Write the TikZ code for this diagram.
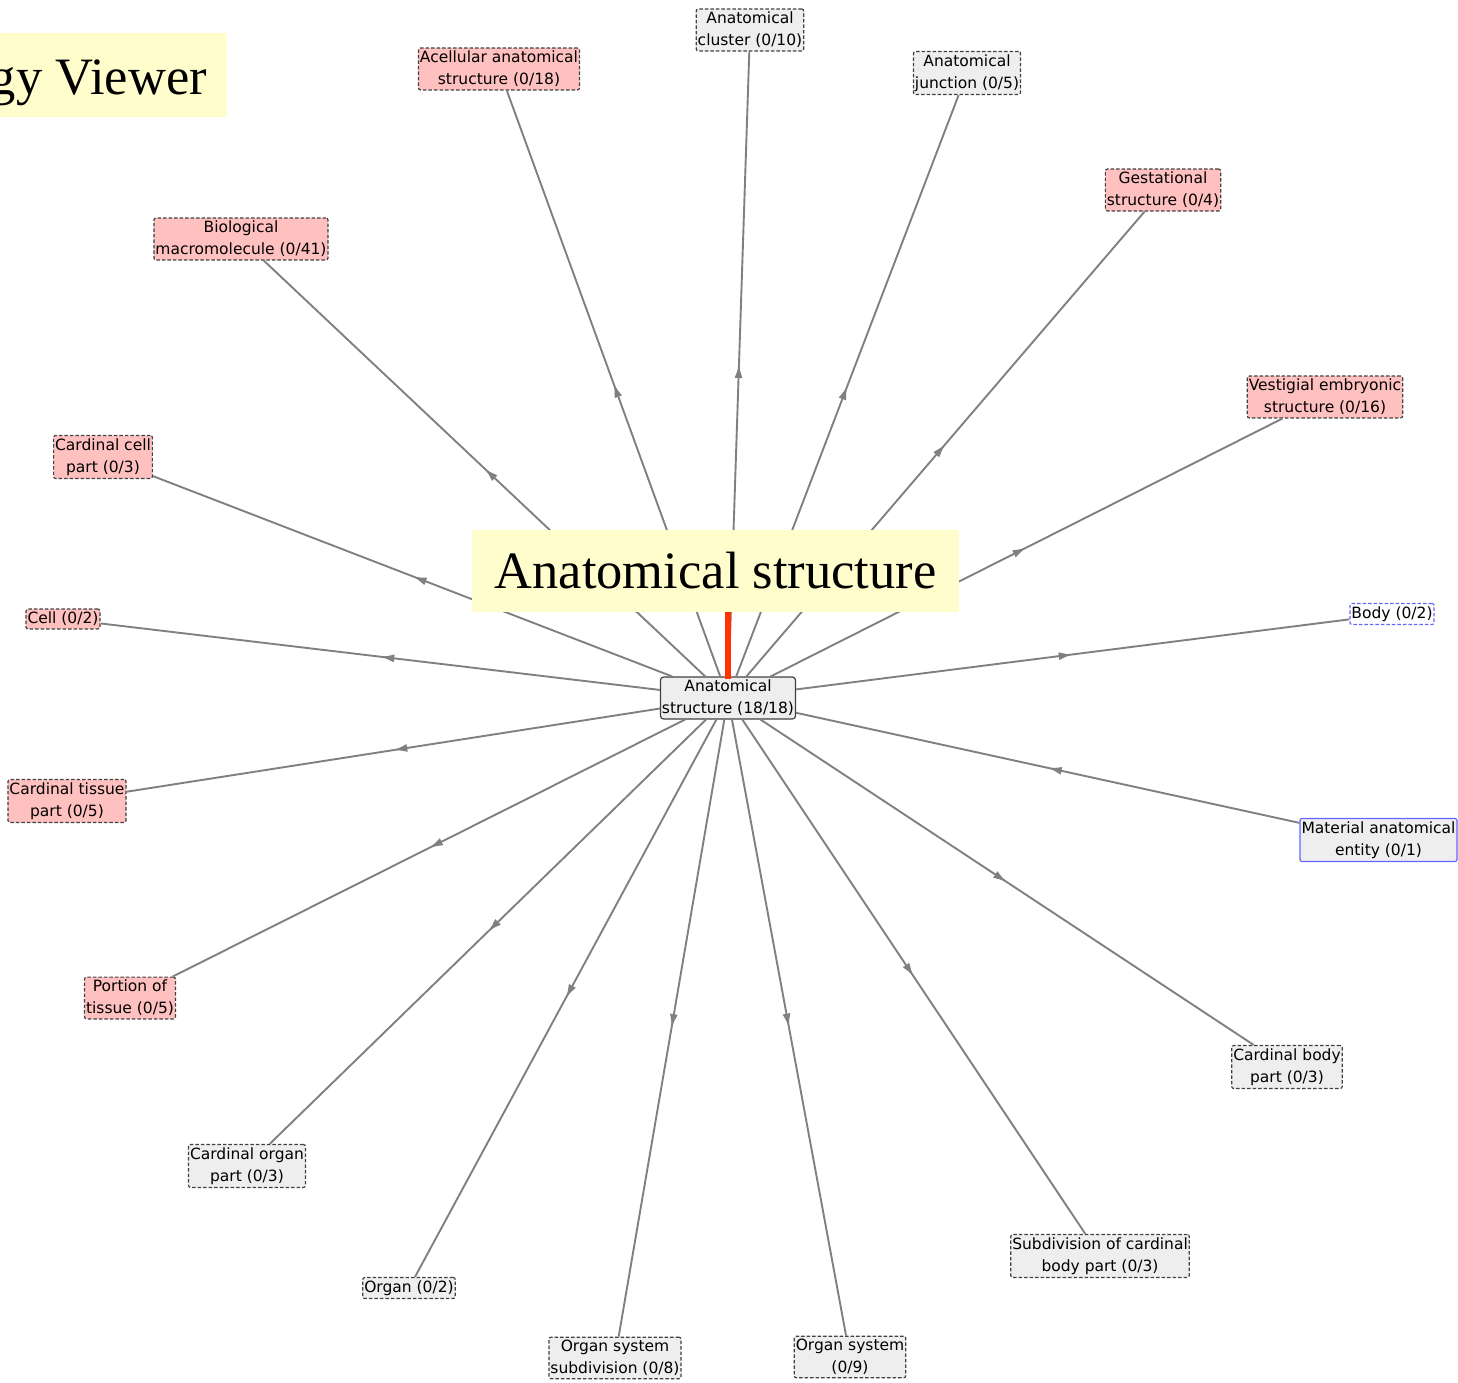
\documentclass[tikz,border=0pt]{standalone}
\usepackage{fontspec}
\setmainfont{Liberation Serif}
\newfontfamily\termfont{DejaVu Sans}
\usetikzlibrary{positioning,calc,arrows.meta,decorations.markings}
\definecolor{pinkbox}{RGB}{255,192,192}
\definecolor{greybox}{RGB}{238,238,238}
\definecolor{edgegrey}{RGB}{128,128,128}
\definecolor{titlebg}{RGB}{255,253,204}
\definecolor{linkblue}{RGB}{100,100,255}
\definecolor{barred}{RGB}{255,51,0}
\tikzset{term/.style={draw=black!75,dash pattern=on 3.5pt off 2pt,rounded corners=2pt,line width=1.2pt,align=center,
  font=\termfont\fontsize{15.5}{22}\selectfont,inner xsep=1.5pt,inner ysep=3pt}}
\tikzset{pterm/.style={term,fill=pinkbox}}
\tikzset{gterm/.style={term,fill=greybox}}
\tikzset{bterm/.style={term,draw=linkblue,fill=white}}
\tikzset{isa/.style={draw=edgegrey,line width=1.9pt,postaction={decorate},
  decoration={markings,mark=at position 0.5 with {\arrow{Latex[length=14pt,width=8pt]}}}}}
\tikzset{isinv/.style={draw=edgegrey,line width=1.9pt,postaction={decorate},
  decoration={markings,mark=at position 0.5 with {\arrowreversed{Latex[length=14pt,width=8pt]}}}}}
\tikzset{banner/.style={fill=titlebg,inner sep=0pt,font=\fontsize{52.5}{60}\selectfont}}

\begin{document}
\begin{tikzpicture}[x=1pt,y=-1pt]
\useasboundingbox (0,0) rectangle (1458,1383);

\node[term,solid,fill=greybox,rounded corners=3pt] (anat) at (728,698) {Anatomical\\structure (18/18)};

\node[pterm] (acell) at (499,69) {Acellular anatomical\\structure (0/18)};
\node[gterm] (clus) at (750,30) {Anatomical\\cluster (0/10)};
\node[gterm] (junc) at (967,73) {Anatomical\\junction (0/5)};
\node[pterm] (gest) at (1163,190) {Gestational\\structure (0/4)};
\node[pterm] (vest) at (1325,397) {Vestigial embryonic\\structure (0/16)};
\node[bterm] (body) at (1392,614) {Body (0/2)};
\node[term,solid,draw=linkblue,fill=greybox] (mat) at (1378.5,840) {Material anatomical\\entity (0/1)};
\node[gterm] (cbody) at (1287,1067) {Cardinal body\\part (0/3)};
\node[gterm] (subd) at (1100,1256) {Subdivision of cardinal\\body part (0/3)};
\node[gterm] (osys) at (850,1357) {Organ system\\(0/9)};
\node[gterm] (osub) at (615,1358) {Organ system\\subdivision (0/8)};
\node[gterm] (organ) at (409,1288) {Organ (0/2)};
\node[gterm] (corg) at (247,1166) {Cardinal organ\\part (0/3)};
\node[pterm] (port) at (130,998) {Portion of\\tissue (0/5)};
\node[pterm] (ctis) at (67,801) {Cardinal tissue\\part (0/5)};
\node[pterm] (cell) at (63,619) {Cell (0/2)};
\node[pterm] (ccell) at (103,457) {Cardinal cell\\part (0/3)};
\node[pterm] (biomac) at (241,239) {Biological\\macromolecule (0/41)};

\foreach \t in {acell,clus,junc,gest,vest,body,cbody,subd,osys,osub,organ,corg,port,ctis,cell,ccell,biomac}
  \draw[isa] (anat) -- (\t);
\draw[isinv] (anat) -- (mat);

\node[banner,minimum width=487pt,minimum height=82pt] (title) at (715.5,571) {Anatomical structure};
\draw[barred,line width=6pt] (title.south -| anat.north) -- ([yshift=-3pt]anat.north);

\fill[titlebg] (0,33) rectangle (227,117);
\node[banner,anchor=base east] (viewer) at (207,95) {gy Viewer};
\end{tikzpicture}
\end{document}
